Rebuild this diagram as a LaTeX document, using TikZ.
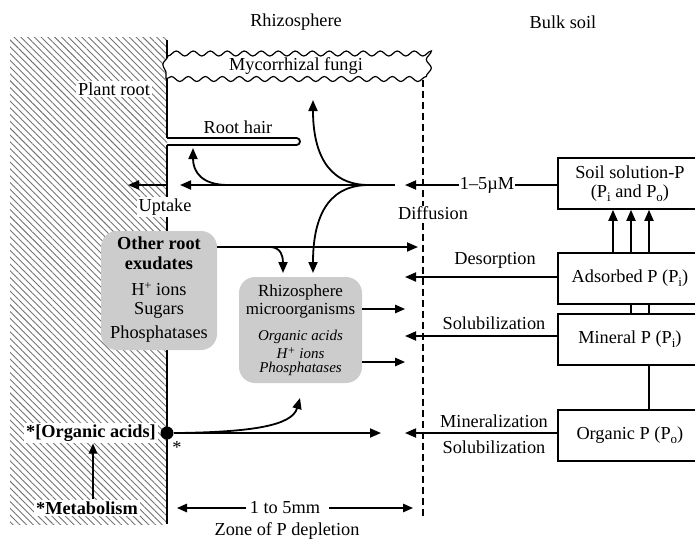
\documentclass[tikz,border=0pt]{standalone}
\usepackage{fontspec}
\setmainfont{Liberation Serif}
\usetikzlibrary{arrows.meta,patterns.meta,decorations.pathmorphing}
\newcommand{\lowsub}[1]{\raisebox{-0.45ex}{\fontsize{13}{13}\selectfont #1}}
\newcommand{\hisup}[1]{\raisebox{0.65ex}{\fontsize{12}{12}\selectfont #1}}
\begin{document}
\begin{tikzpicture}[x=1pt,y=-1pt,
  every node/.style={font=\fontsize{18.3}{21}\selectfont, inner sep=1pt},
  arr/.style={line width=1.8pt, -{Triangle[length=11pt,width=9pt]}},
  tarr/.style={line width=1.4pt, -{Triangle[length=10pt,width=8.5pt]}},
  ln/.style={line width=1.8pt},
  pbox/.style={draw, line width=1.8pt, minimum width=144pt, minimum height=51pt, anchor=north west, align=center},
  graybox/.style={fill=gray!40, rounded corners=16pt, inner sep=0pt},
  wlabel/.style={fill=white, inner sep=2pt},
  bfont/.style={font=\fontsize{18.3}{21}\selectfont\bfseries},
  sfont/.style={font=\fontsize{17}{19}\selectfont},
  ifont/.style={font=\fontsize{15}{16}\selectfont\itshape},
]
\useasboundingbox (0,0) rectangle (695,539);
% hatched plant root
\fill[pattern={Lines[angle=-45,distance=4.8pt,line width=0.9pt]}, pattern color=black!55] (10,37) rectangle (167,524);
% root surface
\draw[ln] (167,40) -- (167,138);
\draw[ln] (167,145) -- (167,524);
% root hair
\draw[ln, rounded corners=3.5pt] (167,138) -- (300,138) -- (300,145) -- (167,145);
% headings
\node (rhz) at (296,22) {Rhizosphere};
\node (bulk) at (563,22) {Bulk soil};
% mycorrhizal fungi
\node[draw, line width=1.2pt, fill=white, decorate, decoration={snake, segment length=17pt, amplitude=2.5pt},
      minimum width=260pt, minimum height=25pt, inner sep=0pt] (fungi) at (296,66.5) {Mycorrhizal fungi};
% dashed boundary
\draw[line width=1.3pt, dash pattern=on 7pt off 4pt] (fungi.south east -| 423,0) -- (423,518);
% left labels
\node[wlabel] (proot) at (114,89) {Plant root};
\node (rhair) at (238,127) {Root hair};
\node[wlabel] (uptake) at (165,207) {Uptake};
% right boxes (clipped at picture edge)
\begin{scope}
\clip (0,0) rectangle (695,539);
\node[pbox] (soil) at (557,157) {Soil solution-P\\[-2pt](P\lowsub{i} and P\lowsub{o})};
\node[pbox] (ads) at (557,252) {Adsorbed P (P\lowsub{i})};
\node[pbox] (min) at (557,313) {Mineral P (P\lowsub{i})};
\node[pbox, minimum height=51pt] (org) at (557,409) {Organic P (P\lowsub{o})};
\end{scope}
% connections between boxes
\foreach \xx in {613,631,649}{\draw[arr] (ads.north -| \xx,0) -- (soil.south -| \xx,0);}
\foreach \xx in {631,649}{\draw[line width=1.2pt] (ads.south -| \xx,0) -- (min.north -| \xx,0);}
\draw[line width=1.4pt] (min.south -| 649,0) -- (org.north -| 649,0);
% diffusion line
\coordinate (fork) at (367,185);
\coordinate (diffR) at (395,185);
\coordinate (diffL) at (180,185);
\coordinate (inL) at (405,185);
\node (mu) at (487,185) {1–5µM};
\draw[ln] (soil.west |- mu) -- (mu.east);
\draw[arr] (mu.west) -- (inL);
\draw[arr] (diffR) -- (diffL);
\node[fill=white, inner sep=0pt] (diff) at (433,213) {Diffusion};
\coordinate (upL) at (128,185);
\coordinate (upR) at (167,185);
\draw[arr] (upR) -- (upL);
\coordinate (toHair) at (193,148);
\draw[arr] (228,185) .. controls (202,185) and (193,172) .. (toHair);
\coordinate (toFungi) at (313,100);
\draw[arr] (fork) .. controls (326,184) and (313,150) .. (toFungi);
\coordinate (toMicroA) at (313,273);
\draw[arr] (fork) .. controls (326,186) and (313,220) .. (toMicroA);
% other root exudates
\node[graybox, minimum width=116pt, minimum height=119pt] (exud) at (159,290.5) {};
\node[bfont] (ex1) at (159,243) {Other root};
\node[bfont] (ex2) at (159,263) {exudates};
\node (ex3) at (159,289) {H\hisup{+} ions};
\node (ex4) at (159,310) {Sugars};
\node (ex5) at (159,334) {Phosphatases};
\coordinate (exEnd) at (418,247);
\draw[arr] (exud.east |- exEnd) -- (exEnd);
\coordinate (toMicroB) at (283,273);
\draw[arr] (271,247) .. controls (281,248) and (283,256) .. (toMicroB);
% rhizosphere microorganisms
\node[graybox, minimum width=123pt, minimum height=106pt] (micro) at (300.5,330) {};
\node[sfont] (mi1) at (300.5,292) {Rhizosphere};
\node[sfont] (mi2) at (300.5,311) {microorganisms};
\node[ifont] (mi3) at (300.5,337) {Organic acids};
\node[ifont] (mi4) at (300.5,353) {H\hisup{+} ions};
\node[ifont] (mi5) at (300.5,369) {Phosphatases};
\coordinate (miA) at (405,309);
\coordinate (miB) at (405,362);
\draw[tarr] (micro.east |- miA) -- (miA);
\draw[tarr] (micro.east |- miB) -- (miB);
% bulk soil fluxes
\coordinate (desL) at (405,277);
\draw[arr] (ads.west |- desL) -- (desL);
\node (des) at (495,260) {Desorption};
\coordinate (solL) at (405,336);
\draw[arr] (min.west |- solL) -- (solL);
\node (sol) at (494,323) {Solubilization};
\coordinate (minL) at (405,433);
\draw[arr] (org.west |- minL) -- (minL);
\node (mnz) at (494,421) {Mineralization};
\node (sol2) at (494,447) {Solubilization};
% organic acids
\node[circle, fill, inner sep=0pt, minimum size=13pt] (dot) at (167,433) {};
\node[wlabel, bfont] (oacid) at (91,433) {*[Organic acids]};
\node (star) at (177,447) {*};
\node[wlabel, bfont] (met) at (87,508) {*Metabolism};
\coordinate (ma) at (93,0);
\draw[tarr] (met.north -| ma) -- (oacid.south -| ma);
\coordinate (oaEnd) at (381,433);
\draw[arr] (dot) -- (oaEnd);
\coordinate (toMicroC) at (300,398);
\draw[arr] (178,433) .. controls (250,432) and (292,426) .. (toMicroC);
% zone of depletion
\node (mm) at (285,508) {1 to 5mm};
\coordinate (zL) at (177,508);
\coordinate (zR) at (413,508);
\draw[tarr] ([xshift=-3pt]mm.west) -- (zL);
\draw[tarr] ([xshift=8pt]mm.east) -- (zR);
\node (zone) at (287,531) {Zone of P depletion};
\end{tikzpicture}
\end{document}
